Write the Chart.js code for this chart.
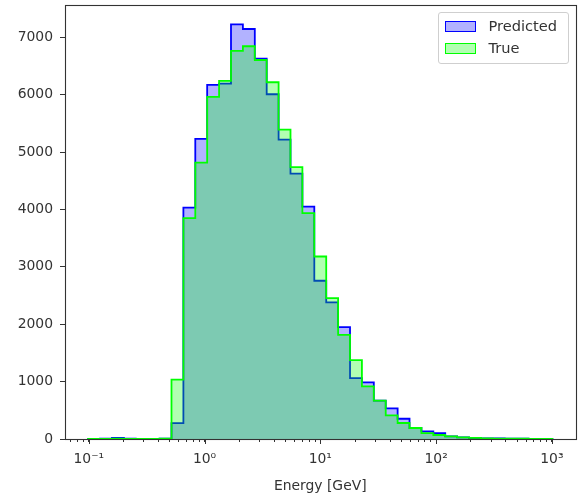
<!DOCTYPE html>
<html><head><meta charset="utf-8">
<script src="https://cdn.jsdelivr.net/npm/chart.js@4/dist/chart.umd.min.js"></script>
<style>
html,body{margin:0;padding:0;background:#fff;}
#wrap{position:relative;width:578px;height:498px;overflow:hidden;}
#c{position:absolute;left:0;top:0;}
.leg{position:absolute;left:437.5px;top:11.5px;width:131px;height:52.5px;box-sizing:border-box;border:1px solid #cfcfcf;border-radius:3px;background:rgba(255,255,255,0.8);font-family:"DejaVu Sans";font-size:14.6px;color:#333;}
.sw{position:absolute;left:6px;width:31px;height:11px;box-sizing:border-box;border:1.5px solid;}
.lt{position:absolute;left:50px;line-height:16px;white-space:nowrap;}
</style></head>
<body><div id="wrap"><canvas id="c" width="578" height="498"></canvas>
<div class="leg" id="leg"></div></div>
<script>
// ---- data ----
const binEdges = [0.09886,0.1252,0.1587,0.2011,0.2548,0.3228,0.4090,0.5184,0.6569,0.8322,
  1.054,1.336,1.693,2.145,2.718,3.443,4.363,5.528,7.004,8.875,
  11.25,14.25,18.06,22.88,28.99,36.73,46.54,58.97,74.71,94.67,
  119.9,152.0,192.6,244.0,309.2,391.7,496.3,628.9,796.8,1010];
const predictedCounts = [3,5,20,5,3,3,5,278,4030,5229,
  6169,6192,7226,7144,6627,6007,5217,4625,4050,2757,
  2379,1950,1062,986,667,533,353,192,132,104,
  45,28,15,12,10,5,4,3,2];
const trueCounts = [2,3,4,3,3,3,4,1033,3848,4816,
  5960,6239,6761,6843,6604,6216,5391,4736,3935,3180,
  2455,1816,1375,916,667,411,279,192,104,70,
  45,28,18,12,8,5,4,3,2];
const seriesNames = ['Predicted','True'];
const seriesEdge = ['#0000ff','#00ff00'];
const seriesFace = ['rgba(0,0,255,0.3)','rgba(0,255,0,0.3)'];
const yTickValues = [0,1000,2000,3000,4000,5000,6000,7000];
const xMajorTicks = [0.1,1,10,100,1000];
const xMajorLabels = ['10\u207B\u00B9','10\u2070','10\u00B9','10\u00B2','10\u00B3'];
const xLabel = 'Energy [GeV]';
const xMin = 0.06237, xMax = 1600, yMax = 7562;

// minor ticks (axis decoration)
const xMinorTicks = [];
for (let k=-2;k<=3;k++) for (let m=2;m<=9;m++){ const v=m*Math.pow(10,k); if(v>xMin&&v<xMax) xMinorTicks.push(v); }
const xAllTicks = xMajorTicks.concat(xMinorTicks).sort((a,b)=>a-b);

function stepPoints(counts){
  const pts=[{x:binEdges[0],y:0}];
  counts.forEach((c,i)=>pts.push({x:binEdges[i],y:c}));
  pts.push({x:binEdges[binEdges.length-1],y:0});
  return pts;
}
const FONT = {family:'"DejaVu Sans"', size:13.9};
const TXT = '#333333';

const framePlugin = {
  id:'frame',
  afterDraw(chart){
    const ctx=chart.ctx, a=chart.chartArea, xs=chart.scales.x;
    ctx.save();
    ctx.strokeStyle=TXT; ctx.lineWidth=1.1;
    ctx.strokeRect(Math.round(a.left)+0.5, Math.round(a.top)+0.5, Math.round(a.right)-Math.round(a.left), Math.round(a.bottom)-Math.round(a.top));
    ctx.lineWidth=1;
    xMajorTicks.forEach(v=>{
      const px=Math.round(xs.getPixelForValue(v))+0.5;
      ctx.beginPath(); ctx.moveTo(px,a.bottom); ctx.lineTo(px,a.bottom+5); ctx.stroke();
    });
    ctx.restore();
  }
};

new Chart(document.getElementById('c'),{
  type:'line',
  data:{datasets:[
    {label:seriesNames[0], data:stepPoints(predictedCounts), stepped:'before', borderColor:seriesEdge[0], backgroundColor:seriesFace[0], borderWidth:1.8, fill:'origin', pointRadius:0, order:1},
    {label:seriesNames[1], data:stepPoints(trueCounts), stepped:'before', borderColor:seriesEdge[1], backgroundColor:seriesFace[1], borderWidth:1.8, fill:'origin', pointRadius:0, order:0}
  ]},
  options:{
    responsive:false, animation:false, devicePixelRatio:1,
    layout:{padding:{left:0,right:2.5,top:5,bottom:0}},
    plugins:{legend:{display:false}, tooltip:{enabled:false}},
    scales:{
      x:{type:'logarithmic', min:xMin, max:xMax,
        afterBuildTicks:s=>{ s.ticks = xAllTicks.map(v=>({value:v})); },
        afterFit:s=>{ s.height=59; s.paddingLeft=0; s.paddingRight=0; },
        ticks:{autoSkip:false, maxRotation:0, minRotation:0, padding:9, color:TXT, font:FONT,
          callback:(v)=>{ const i=xMajorTicks.findIndex(m=>Math.abs(Math.log10(m)-Math.log10(v))<1e-6); return i>=0?xMajorLabels[i]:''; }},
        grid:{drawOnChartArea:false, drawTicks:true, tickLength:3, color:TXT, tickWidth:1},
        border:{display:false},
        title:{display:true, text:xLabel, color:TXT, font:FONT, padding:{top:0,bottom:3}}
      },
      y:{type:'linear', min:0, max:yMax,
        afterBuildTicks:s=>{ s.ticks = yTickValues.map(v=>({value:v})); },
        afterFit:s=>{ s.width=65; s.paddingTop=0; s.paddingBottom=0; },
        ticks:{padding:7, color:TXT, font:FONT, callback:v=>String(v)},
        grid:{drawOnChartArea:false, drawTicks:true, tickLength:5, color:TXT, tickWidth:1},
        border:{display:false}
      }
    }
  },
  plugins:[framePlugin]
});

// legend (HTML text)
const leg=document.getElementById('leg');
seriesNames.forEach((n,i)=>{
  const top = i===0 ? 8 : 30;
  const sw=document.createElement('div'); sw.className='sw';
  sw.style.top=top+'px'; sw.style.borderColor=seriesEdge[i]; sw.style.background=seriesFace[i];
  const t=document.createElement('div'); t.className='lt'; t.textContent=n; t.style.top=(top-3)+'px';
  leg.appendChild(sw); leg.appendChild(t);
});
</script></body></html>
